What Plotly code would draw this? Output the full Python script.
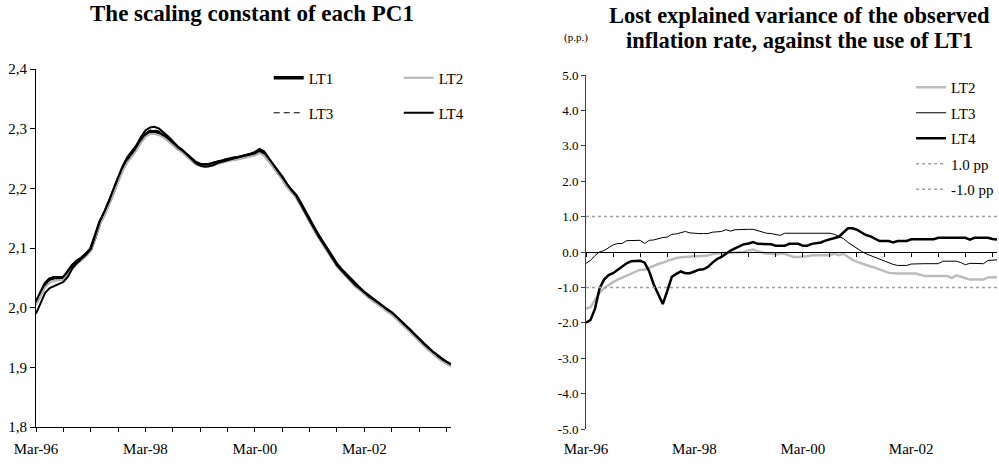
import pandas as pd
import plotly.graph_objects as go

# Monthly observations, Mar-96 .. Oct-03
months = pd.date_range("1996-03-01", periods=92, freq="MS").strftime("%b-%y").tolist()
idx = list(range(len(months)))

# Scaling constant of each PC1
pc1_lt1 = [2.008, 2.025, 2.040, 2.048, 2.050, 2.050, 2.050, 2.060, 2.071, 2.078,
           2.083, 2.090, 2.098, 2.120, 2.143, 2.158, 2.175, 2.195, 2.215, 2.233,
           2.247, 2.257, 2.267, 2.280, 2.290, 2.295, 2.295, 2.293, 2.288, 2.282,
           2.275, 2.268, 2.263, 2.256, 2.250, 2.243, 2.240, 2.239, 2.240, 2.242,
           2.245, 2.246, 2.248, 2.250, 2.251, 2.253, 2.254, 2.256, 2.258, 2.262,
           2.258, 2.248, 2.238, 2.228, 2.218, 2.205, 2.196, 2.188, 2.175, 2.160,
           2.147, 2.133, 2.120, 2.108, 2.096, 2.084, 2.072, 2.063, 2.055, 2.046,
           2.038, 2.032, 2.025, 2.019, 2.013, 2.008, 2.002, 1.996, 1.991, 1.984,
           1.976, 1.969, 1.962, 1.954, 1.946, 1.939, 1.932, 1.925, 1.919, 1.913,
           1.908, 1.904]
pc1_lt2 = [2.004, 2.020, 2.034, 2.042, 2.045, 2.046, 2.047, 2.055, 2.066, 2.073,
           2.079, 2.086, 2.095, 2.116, 2.139, 2.154, 2.171, 2.191, 2.211, 2.229,
           2.243, 2.253, 2.263, 2.276, 2.286, 2.291, 2.291, 2.289, 2.285, 2.279,
           2.272, 2.265, 2.260, 2.253, 2.247, 2.240, 2.237, 2.236, 2.237, 2.239,
           2.242, 2.243, 2.245, 2.247, 2.248, 2.250, 2.251, 2.253, 2.255, 2.259,
           2.255, 2.245, 2.235, 2.225, 2.215, 2.202, 2.193, 2.185, 2.172, 2.157,
           2.144, 2.130, 2.117, 2.105, 2.093, 2.081, 2.069, 2.060, 2.052, 2.043,
           2.035, 2.029, 2.022, 2.016, 2.010, 2.005, 1.999, 1.993, 1.988, 1.981,
           1.973, 1.966, 1.959, 1.951, 1.943, 1.936, 1.929, 1.922, 1.916, 1.910,
           1.905, 1.901]
pc1_lt3 = [2.010, 2.027, 2.042, 2.050, 2.052, 2.052, 2.052, 2.062, 2.073, 2.080,
           2.085, 2.092, 2.100, 2.122, 2.145, 2.160, 2.177, 2.197, 2.217, 2.235,
           2.249, 2.259, 2.269, 2.282, 2.292, 2.298, 2.298, 2.296, 2.291, 2.285,
           2.278, 2.271, 2.265, 2.258, 2.252, 2.245, 2.242, 2.241, 2.242, 2.244,
           2.247, 2.248, 2.250, 2.252, 2.253, 2.255, 2.256, 2.258, 2.260, 2.264,
           2.260, 2.250, 2.240, 2.230, 2.220, 2.207, 2.198, 2.190, 2.177, 2.162,
           2.149, 2.135, 2.122, 2.110, 2.098, 2.086, 2.074, 2.065, 2.057, 2.048,
           2.040, 2.034, 2.027, 2.021, 2.015, 2.010, 2.004, 1.998, 1.993, 1.986,
           1.978, 1.971, 1.964, 1.956, 1.948, 1.941, 1.934, 1.927, 1.921, 1.915,
           1.910, 1.906]
pc1_lt4 = [1.990, 2.008, 2.025, 2.033, 2.036, 2.039, 2.043, 2.052, 2.066, 2.075,
           2.082, 2.089, 2.098, 2.121, 2.145, 2.161, 2.178, 2.199, 2.219, 2.237,
           2.252, 2.262, 2.272, 2.286, 2.297, 2.302, 2.303, 2.300, 2.294, 2.287,
           2.279, 2.271, 2.265, 2.257, 2.250, 2.242, 2.238, 2.236, 2.237, 2.239,
           2.243, 2.245, 2.247, 2.249, 2.251, 2.253, 2.255, 2.258, 2.261, 2.266,
           2.262, 2.251, 2.240, 2.230, 2.219, 2.206, 2.197, 2.188, 2.175, 2.160,
           2.146, 2.132, 2.119, 2.107, 2.095, 2.083, 2.071, 2.062, 2.054, 2.046,
           2.038, 2.032, 2.025, 2.019, 2.014, 2.009, 2.003, 1.997, 1.992, 1.985,
           1.977, 1.970, 1.963, 1.955, 1.947, 1.940, 1.933, 1.926, 1.920, 1.914,
           1.909, 1.905]

# Lost explained variance versus LT1 (p.p.)
lost_lt2 = [-1.60, -1.56, -1.35, -1.15, -1.02, -0.93, -0.85, -0.78, -0.72, -0.66,
            -0.62, -0.56, -0.50, -0.50, -0.44, -0.38, -0.34, -0.30, -0.26, -0.20,
            -0.17, -0.15, -0.14, -0.14, -0.13, -0.12, -0.12, -0.10, -0.06, -0.04,
            -0.02, -0.02, -0.02, -0.02, -0.01, 0.00, 0.04, 0.07, 0.02, -0.02,
            -0.05, -0.05, -0.07, -0.05, -0.05, -0.10, -0.14, -0.14, -0.14, -0.12,
            -0.09, -0.09, -0.09, -0.09, -0.09, -0.05, -0.09, -0.05, -0.14, -0.22,
            -0.28, -0.33, -0.37, -0.41, -0.44, -0.50, -0.54, -0.59, -0.61, -0.61,
            -0.61, -0.61, -0.61, -0.61, -0.64, -0.68, -0.68, -0.68, -0.68, -0.68,
            -0.68, -0.73, -0.66, -0.70, -0.74, -0.78, -0.78, -0.78, -0.78, -0.72,
            -0.71, -0.71]
lost_lt3 = [-0.32, -0.24, -0.10, 0.00, 0.04, 0.12, 0.20, 0.24, 0.24, 0.32,
            0.33, 0.33, 0.33, 0.24, 0.33, 0.34, 0.38, 0.41, 0.42, 0.50,
            0.51, 0.54, 0.58, 0.54, 0.52, 0.52, 0.52, 0.52, 0.56, 0.56,
            0.58, 0.63, 0.59, 0.63, 0.64, 0.64, 0.64, 0.64, 0.60, 0.56,
            0.53, 0.52, 0.49, 0.47, 0.53, 0.53, 0.53, 0.53, 0.53, 0.53,
            0.53, 0.53, 0.53, 0.53, 0.53, 0.50, 0.45, 0.38, 0.27, 0.18,
            0.10, 0.02, -0.05, -0.10, -0.15, -0.21, -0.25, -0.30, -0.35, -0.38,
            -0.38, -0.38, -0.34, -0.33, -0.33, -0.33, -0.33, -0.33, -0.33, -0.26,
            -0.26, -0.26, -0.26, -0.30, -0.36, -0.32, -0.33, -0.33, -0.33, -0.24,
            -0.22, -0.22]
lost_lt4 = [-2.00, -1.92, -1.60, -1.03, -0.78, -0.65, -0.60, -0.50, -0.40, -0.32,
            -0.26, -0.25, -0.25, -0.30, -0.55, -0.92, -1.22, -1.47, -1.10, -0.70,
            -0.62, -0.55, -0.60, -0.60, -0.55, -0.50, -0.49, -0.42, -0.30, -0.20,
            -0.14, -0.04, 0.04, 0.10, 0.16, 0.22, 0.24, 0.28, 0.23, 0.22,
            0.22, 0.22, 0.18, 0.18, 0.18, 0.23, 0.23, 0.23, 0.18, 0.18,
            0.23, 0.25, 0.27, 0.32, 0.36, 0.39, 0.43, 0.55, 0.67, 0.67,
            0.63, 0.55, 0.48, 0.44, 0.37, 0.31, 0.31, 0.31, 0.27, 0.31,
            0.31, 0.31, 0.36, 0.36, 0.36, 0.36, 0.36, 0.36, 0.40, 0.40,
            0.40, 0.40, 0.40, 0.40, 0.40, 0.35, 0.40, 0.40, 0.40, 0.40,
            0.37, 0.35]
band_levels = [1.0, -1.0]
band_names = ["1.0 pp", "-1.0 pp"]

# Axis ticks
left_yticks = [1.8, 1.9, 2.0, 2.1, 2.2, 2.3, 2.4]
left_ytext = ["1,8", "1,9", "2,0", "2,1", "2,2", "2,3", "2,4"]
right_yticks = [-5, -4, -3, -2, -1, 0, 1, 2, 3, 4, 5]
right_ytext = ["-5.0", "-4.0", "-3.0", "-2.0", "-1.0", "0.0", "1.0", "2.0", "3.0", "4.0", "5.0"]
minor_ticks = idx[::6]
label_ticks = idx[::24]
label_text = [months[i] for i in label_ticks]

SERIF = "Liberation Serif"
W, H = 999, 464

left_xdom = [36 / W, 451 / W]
left_ydom = [1 - 427 / H, 1 - 69 / H]
right_xdom = [586 / W, 997 / W]
right_ydom = [1 - 429 / H, 1 - 75 / H]
right_range = [-5, 5]
zero_pos = right_ydom[0] + (0 - right_range[0]) / (right_range[1] - right_range[0]) * (right_ydom[1] - right_ydom[0])

fig = go.Figure()

# Left panel
left_styles = [
    ("LT1", pc1_lt1, dict(color="black", width=3.5), "legend"),
    ("LT2", pc1_lt2, dict(color="#b4b4b4", width=2), "legend"),
    ("LT3", pc1_lt3, dict(color="black", width=1, dash="6px,4px"), "legend2"),
    ("LT4", pc1_lt4, dict(color="black", width=2), "legend2"),
]
for name, vals, line, leg in left_styles:
    fig.add_trace(go.Scatter(x=idx, y=vals, name=name, mode="lines", line=line,
                             xaxis="x", yaxis="y", legend=leg))

# Right panel
right_styles = [
    ("LT2", lost_lt2, dict(color="#bcbcbc", width=2.5)),
    ("LT3", lost_lt3, dict(color="black", width=1)),
    ("LT4", lost_lt4, dict(color="black", width=2.5)),
]
for name, vals, line in right_styles:
    fig.add_trace(go.Scatter(x=idx, y=vals, name=name, mode="lines", line=line,
                             xaxis="x2", yaxis="y2", legend="legend3", legendgroup=name))
for name, level in zip(band_names, band_levels):
    fig.add_trace(go.Scatter(x=idx, y=[level] * len(idx), name=name, mode="lines",
                             line=dict(color="#a0a0a0", width=1.5, dash="dot"),
                             xaxis="x3", yaxis="y2", legend="legend3", legendgroup=name))

tickfont = dict(family=SERIF, size=15, color="black")
legfont = dict(family=SERIF, size=15, color="black")

fig.update_layout(
    width=W, height=H,
    margin=dict(l=0, r=0, t=0, b=0, autoexpand=False),
    paper_bgcolor="white", plot_bgcolor="white",
    showlegend=True,
    xaxis=dict(domain=left_xdom, anchor="y", range=[0, len(idx) - 1],
               tickmode="array", tickvals=minor_ticks,
               ticktext=[months[i] if i % 24 == 0 else "" for i in minor_ticks],
               ticks="outside", ticklen=4, tickcolor="black", showline=True,
               linecolor="black", linewidth=1, showgrid=False, zeroline=False,
               tickfont=tickfont, ticklabelstandoff=4, automargin=False),
    yaxis=dict(domain=left_ydom, anchor="x", range=[1.8, 2.4],
               tickmode="array", tickvals=left_yticks, ticktext=left_ytext,
               ticks="outside", ticklen=5, tickcolor="black", showline=True,
               linecolor="black", linewidth=1, showgrid=False, zeroline=False,
               tickfont=tickfont, automargin=False),
    xaxis2=dict(domain=right_xdom, anchor="y2", range=[0, len(idx) - 1],
                tickmode="array", tickvals=label_ticks, ticktext=label_text,
                ticks="", showline=False, showgrid=False, zeroline=False,
                tickfont=tickfont, ticklabelstandoff=9, automargin=False),
    yaxis2=dict(domain=right_ydom, anchor="x2", range=right_range,
                tickmode="array", tickvals=right_yticks, ticktext=right_ytext,
                ticks="outside", ticklen=4, tickcolor="#404040", showline=True,
                linecolor="#404040", linewidth=1, showgrid=False, zeroline=False,
                tickfont=dict(family=SERIF, size=13, color="black"), automargin=False),
    xaxis3=dict(overlaying="x2", anchor="free", position=zero_pos,
                range=[0, len(idx) - 1], tickmode="array", tickvals=minor_ticks,
                showticklabels=False, ticks="outside", ticklen=4, tickcolor="black",
                showline=True, linecolor="black", linewidth=1, showgrid=False,
                zeroline=False, automargin=False),
    legend=dict(orientation="h", x=0.269, y=1 - 78 / H, xanchor="left", yanchor="middle",
                font=legfont, bgcolor="rgba(0,0,0,0)", entrywidth=85,
                entrywidthmode="pixels"),
    legend2=dict(orientation="h", x=0.269, y=1 - 113 / H, xanchor="left", yanchor="middle",
                 font=legfont, bgcolor="rgba(0,0,0,0)", entrywidth=85,
                 entrywidthmode="pixels"),
    legend3=dict(orientation="v", x=0.912, y=1 - 71 / H, xanchor="left", yanchor="top",
                 font=legfont, bgcolor="rgba(0,0,0,0)", tracegroupgap=3),
    annotations=[
        dict(text="<b>The scaling constant of each PC1</b>", x=252 / W, y=1 - 13 / H,
             xref="paper", yref="paper", showarrow=False, xanchor="center", yanchor="middle",
             font=dict(family=SERIF, size=23, color="black")),
        dict(text="<b>Lost explained variance of the observed</b>", x=799 / W, y=1 - 16 / H,
             xref="paper", yref="paper", showarrow=False, xanchor="center", yanchor="middle",
             font=dict(family=SERIF, size=22.5, color="black")),
        dict(text="<b>inflation rate, against the use of LT1</b>", x=799 / W, y=1 - 40 / H,
             xref="paper", yref="paper", showarrow=False, xanchor="center", yanchor="middle",
             font=dict(family=SERIF, size=22.5, color="black")),
        dict(text="(p.p.)", x=576 / W, y=1 - 37 / H,
             xref="paper", yref="paper", showarrow=False, xanchor="center", yanchor="middle",
             font=dict(family=SERIF, size=11, color="black")),
    ],
)

fig.write_html("out.html")
